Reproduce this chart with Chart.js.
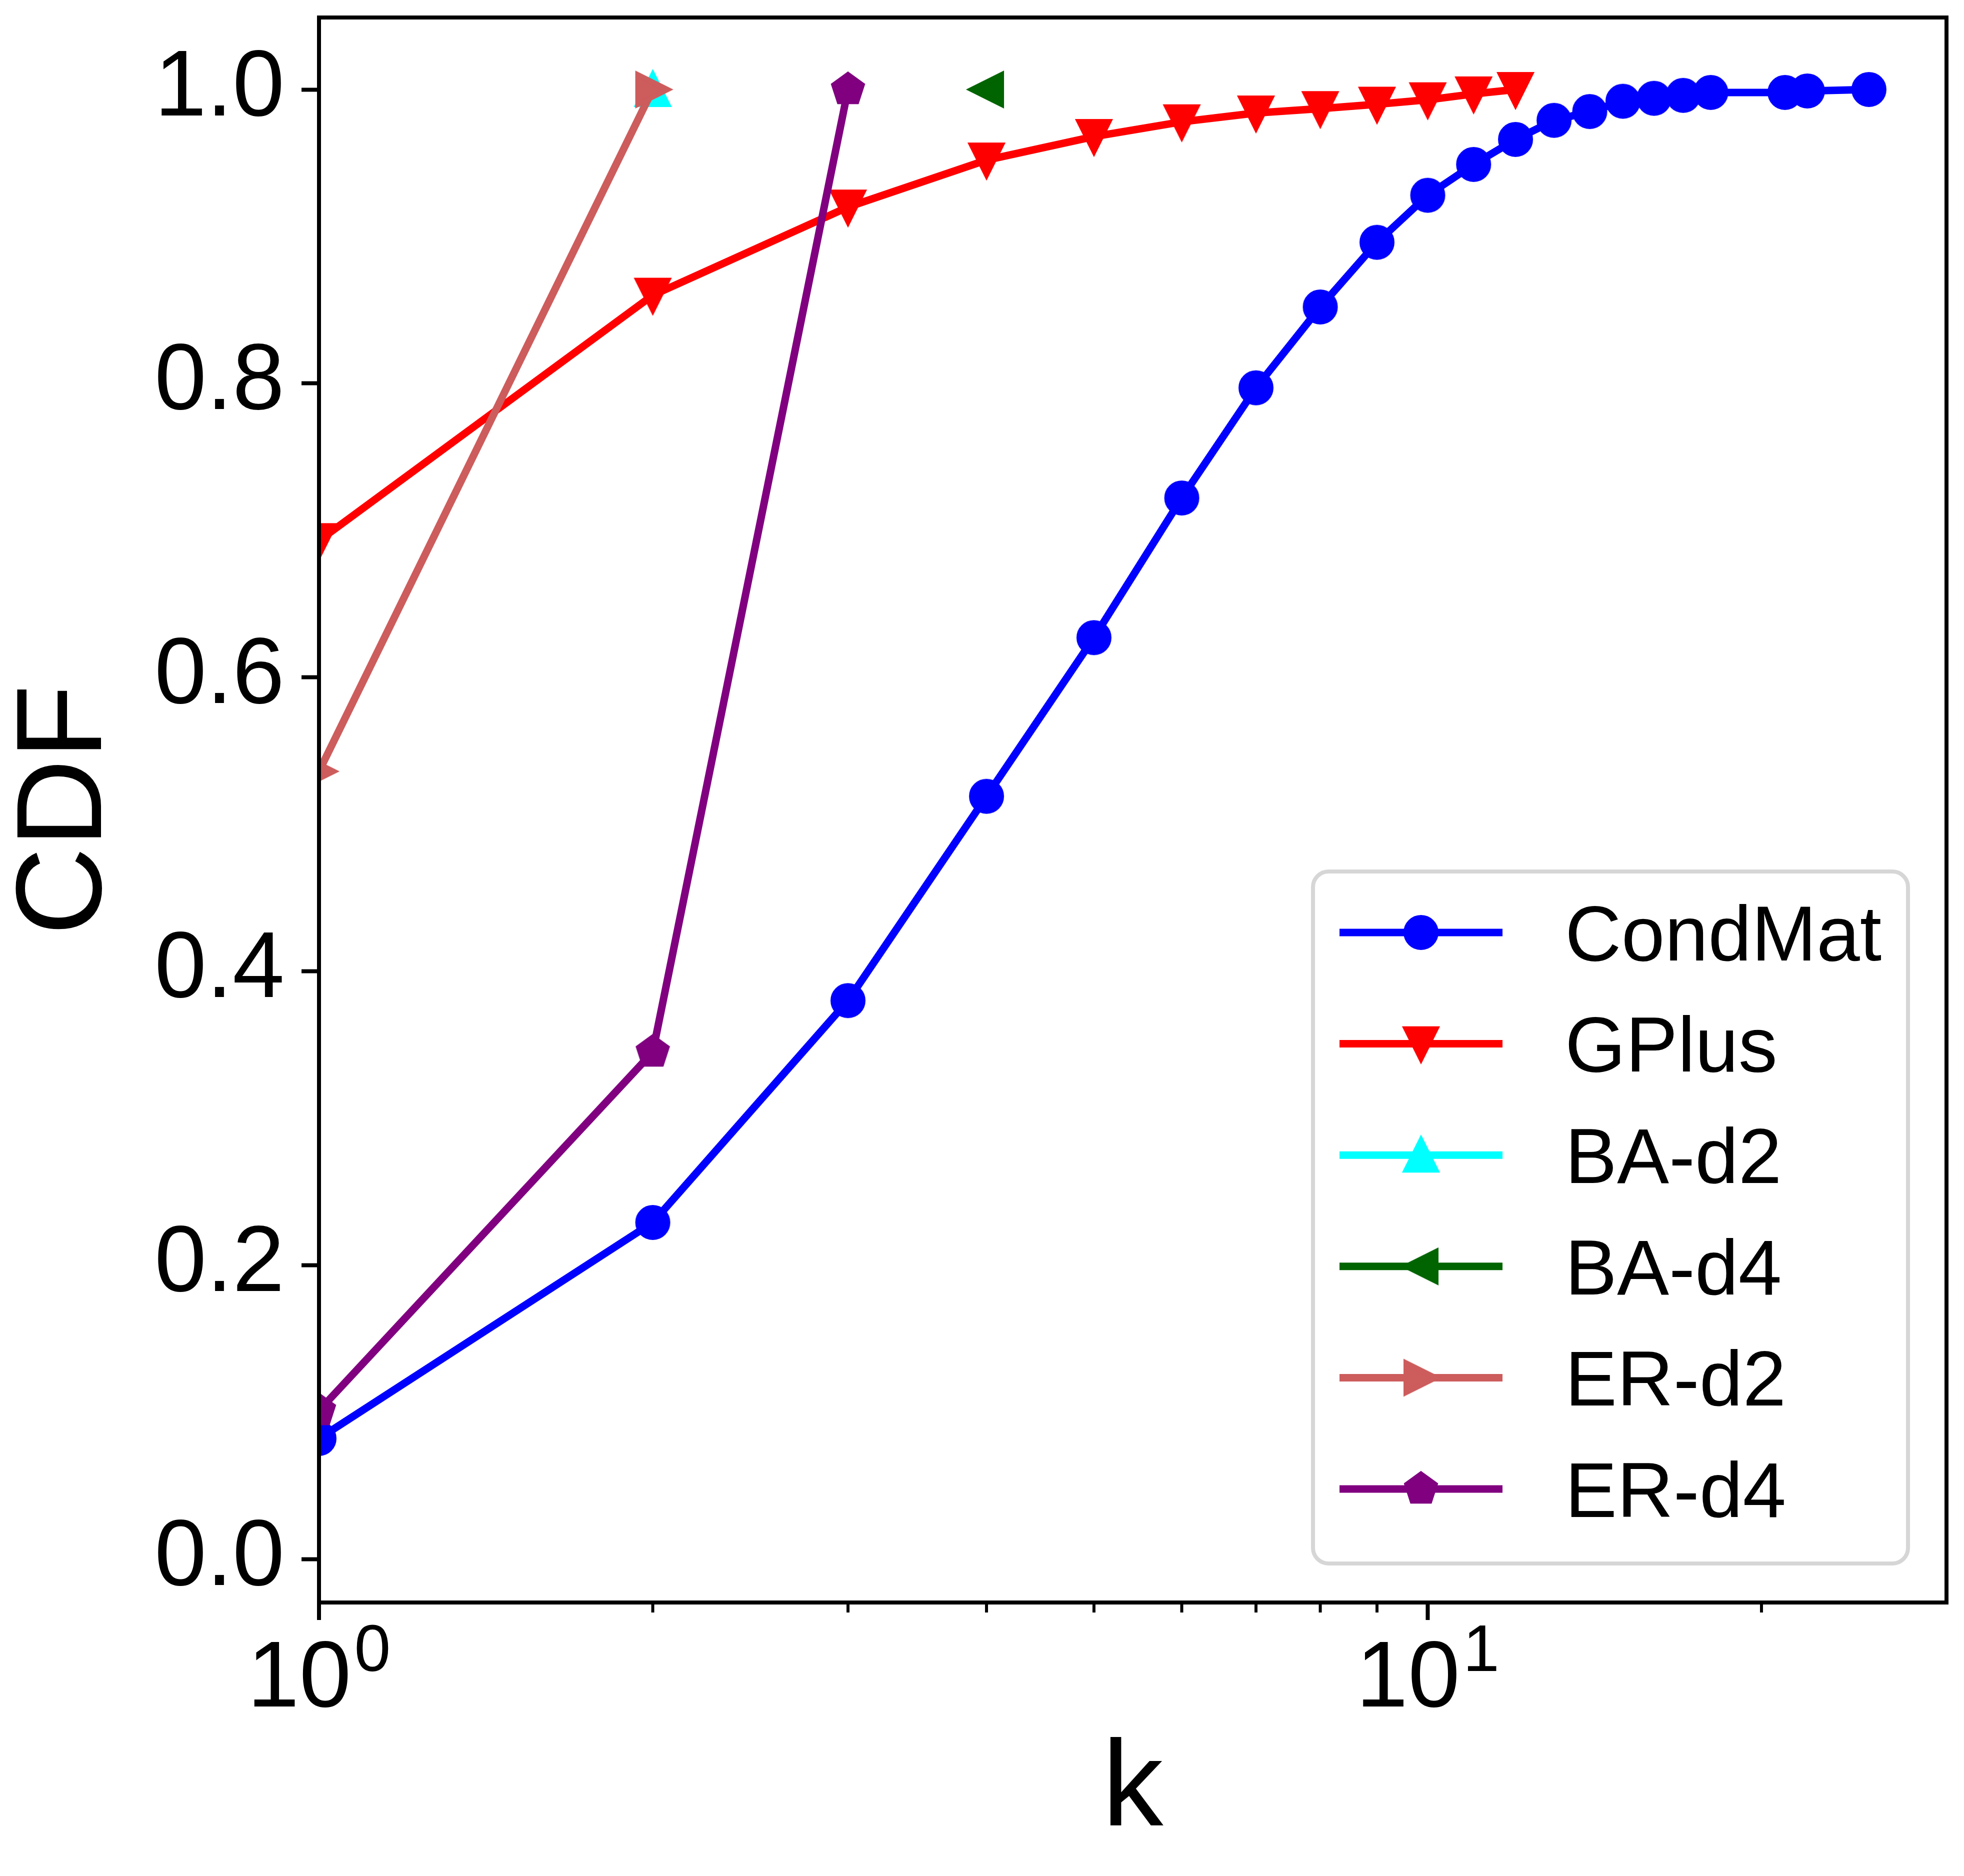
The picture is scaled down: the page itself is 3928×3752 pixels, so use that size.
<!DOCTYPE html>
<html>
<head>
<meta charset="utf-8">
<script src="https://cdn.jsdelivr.net/npm/chart.js@4.4.1/dist/chart.umd.min.js"></script>
<style>
html,body{margin:0;padding:0;background:#ffffff;}
canvas{display:block;}
</style>
</head>
<body>
<canvas id="c" width="3928" height="3752" style="width:3928px;height:3752px"></canvas>
<script>
// ---------------- data ----------------
const seriesNames = ['CondMat', 'GPlus', 'BA-d2', 'BA-d4', 'ER-d2', 'ER-d4'];
const condMatK   = [1, 2, 3, 4, 5, 6, 7, 8, 9, 10, 11, 12, 13, 14, 15, 16, 17, 18, 21, 22, 25];
const condMatCDF = [0.082, 0.229, 0.380, 0.519, 0.627, 0.722, 0.797, 0.852, 0.896, 0.928, 0.949,
                    0.966, 0.979, 0.985, 0.992, 0.994, 0.996, 0.998, 0.998, 0.999, 1.000];
const gplusK   = [1, 2, 3, 4, 5, 6, 7, 8, 9, 10, 11, 12];
const gplusCDF = [0.693, 0.860, 0.920, 0.952, 0.968, 0.978, 0.984, 0.987, 0.990, 0.993, 0.997, 1.000];
const baD2K = [2];       const baD2CDF = [1.0];
const baD4K = [4];       const baD4CDF = [1.0];
const erD2K = [1, 2];    const erD2CDF = [0.536, 1.0];
const erD4K = [1, 2, 3]; const erD4CDF = [0.101, 0.345, 1.0];

const yTickValues  = [0.0, 0.2, 0.4, 0.6, 0.8, 1.0];
const xMajorTicks  = [1, 10];
const xMajorBase   = ['10', '10'];
const xMajorExpo   = ['0', '1'];
const xMinorTicks  = [2, 3, 4, 5, 6, 7, 8, 9, 20];
const xLabel = 'k';
const yLabel = 'CDF';

// ---------------- styles ----------------
const FONT = "'Liberation Sans', Arial, Helvetica, sans-serif";
const colors = ['#0000ff', '#ff0000', '#00ffff', '#006400', '#cd5c5c', '#800080'];
const shapes = ['circle', 'triDown', 'triUp', 'triLeft', 'triRight', 'pentagon'];

function makeMarker(shape, color) {
  const S = 100;
  const c = document.createElement('canvas');
  c.width = S; c.height = S;
  const g = c.getContext('2d');
  g.translate(S / 2, S / 2);
  const r = 30;
  g.beginPath();
  if (shape === 'circle') {
    g.arc(0, 0, r, 0, Math.PI * 2);
  } else if (shape === 'triDown') {
    g.moveTo(0, r); g.lineTo(-r, -r); g.lineTo(r, -r); g.closePath();
  } else if (shape === 'triUp') {
    g.moveTo(0, -r); g.lineTo(-r, r); g.lineTo(r, r); g.closePath();
  } else if (shape === 'triLeft') {
    g.moveTo(-r, 0); g.lineTo(r, -r); g.lineTo(r, r); g.closePath();
  } else if (shape === 'triRight') {
    g.moveTo(r, 0); g.lineTo(-r, -r); g.lineTo(-r, r); g.closePath();
  } else if (shape === 'pentagon') {
    for (let i = 0; i < 5; i++) {
      const a = -Math.PI / 2 + i * 2 * Math.PI / 5;
      const px = r * Math.cos(a), py = r * Math.sin(a);
      if (i === 0) g.moveTo(px, py); else g.lineTo(px, py);
    }
    g.closePath();
  }
  g.fillStyle = color;
  g.fill();
  g.lineWidth = 10;
  g.lineJoin = 'miter';
  g.strokeStyle = color;
  g.stroke();
  return c;
}
const markers = shapes.map((s, i) => makeMarker(s, colors[i]));

function toPoints(ks, vs) { return ks.map((k, i) => ({ x: k, y: vs[i] })); }
const seriesK   = [condMatK, gplusK, baD2K, baD4K, erD2K, erD4K];
const seriesCDF = [condMatCDF, gplusCDF, baD2CDF, baD4CDF, erD2CDF, erD4CDF];

const datasets = seriesNames.map((name, i) => ({
  label: name,
  data: toPoints(seriesK[i], seriesCDF[i]),
  borderColor: colors[i],
  backgroundColor: colors[i],
  borderWidth: 15,
  borderJoinStyle: 'round',
  borderCapStyle: 'square',
  pointStyle: markers[i],
  pointRadius: 35,
  pointHoverRadius: 35,
  pointBorderWidth: 0,
  fill: false,
  tension: 0,
  order: seriesNames.length - i
}));

// ---------------- plugins ----------------
const framePlugin = {
  id: 'frame',
  afterDatasetsDraw(chart) {
    const { ctx, chartArea: a } = chart;
    ctx.save();
    ctx.strokeStyle = '#000000';
    ctx.lineWidth = 8;
    ctx.lineJoin = 'miter';
    ctx.strokeRect(a.left, a.top, a.right - a.left, a.bottom - a.top);
    ctx.restore();
  }
};

const xAxisPlugin = {
  id: 'xAxisTicks',
  afterDraw(chart) {
    const { ctx, chartArea: a } = chart;
    const xs = chart.scales.x;
    ctx.save();
    ctx.strokeStyle = '#000000';
    // major ticks
    ctx.lineWidth = 8;
    xMajorTicks.forEach(v => {
      const px = xs.getPixelForValue(v);
      ctx.beginPath(); ctx.moveTo(px, a.bottom); ctx.lineTo(px, a.bottom + 35); ctx.stroke();
    });
    // minor ticks
    ctx.lineWidth = 6;
    xMinorTicks.forEach(v => {
      const px = xs.getPixelForValue(v);
      ctx.beginPath(); ctx.moveTo(px, a.bottom); ctx.lineTo(px, a.bottom + 20); ctx.stroke();
    });
    // labels 10^n
    ctx.fillStyle = '#000000';
    ctx.textBaseline = 'alphabetic';
    ctx.textAlign = 'left';
    const big = 187, small = 131;
    xMajorTicks.forEach((v, i) => {
      const px = xs.getPixelForValue(v);
      ctx.font = big + 'px ' + FONT;
      const wb = ctx.measureText(xMajorBase[i]).width;
      ctx.font = small + 'px ' + FONT;
      const we = ctx.measureText(xMajorExpo[i]).width;
      const gap = 6;
      const x0 = px - (wb + gap + we) / 2;
      ctx.font = big + 'px ' + FONT;
      ctx.fillText(xMajorBase[i], x0, a.bottom + 208);
      ctx.font = small + 'px ' + FONT;
      ctx.fillText(xMajorExpo[i], x0 + wb + gap, a.bottom + 137);
    });
    ctx.restore();
  }
};

const legendPlugin = {
  id: 'mplLegend',
  afterDraw(chart) {
    const { ctx, chartArea: a } = chart;
    const right = a.right - 77, bottom = a.bottom - 78;
    const left = right - 1190, top = bottom - 1384;
    const rad = 31;
    ctx.save();
    ctx.beginPath();
    ctx.moveTo(left + rad, top);
    ctx.lineTo(right - rad, top);
    ctx.arcTo(right, top, right, top + rad, rad);
    ctx.lineTo(right, bottom - rad);
    ctx.arcTo(right, bottom, right - rad, bottom, rad);
    ctx.lineTo(left + rad, bottom);
    ctx.arcTo(left, bottom, left, bottom - rad, rad);
    ctx.lineTo(left, top + rad);
    ctx.arcTo(left, top, left + rad, top, rad);
    ctx.closePath();
    ctx.fillStyle = 'rgba(255,255,255,0.8)';
    ctx.fill();
    ctx.lineWidth = 8;
    ctx.strokeStyle = '#d6d6d6';
    ctx.stroke();

    const fs = 156;
    ctx.font = fs + 'px ' + FONT;
    ctx.textAlign = 'left';
    ctx.textBaseline = 'alphabetic';
    chart.data.datasets.forEach((ds, i) => {
      const y = top + 122 + i * 222.6;
      ctx.beginPath();
      ctx.moveTo(left + 53, y);
      ctx.lineTo(left + 379, y);
      ctx.lineWidth = 15;
      ctx.lineCap = 'butt';
      ctx.strokeStyle = ds.borderColor;
      ctx.stroke();
      const m = ds.pointStyle;
      ctx.drawImage(m, left + 216 - m.width / 2, y - m.height / 2);
      ctx.fillStyle = '#000000';
      ctx.fillText(ds.label, left + 504, y + 0.358 * fs);
    });
    ctx.restore();
  }
};

// ---------------- chart ----------------
new Chart(document.getElementById('c'), {
  type: 'line',
  data: { datasets: datasets },
  options: {
    responsive: false,
    animation: false,
    devicePixelRatio: 1,
    layout: { padding: { top: 34, right: 34, left: 0, bottom: 0 } },
    plugins: { legend: { display: false }, tooltip: { enabled: false } },
    scales: {
      x: {
        type: 'logarithmic',
        position: 'bottom',
        min: 1,
        max: 29.37,
        grid: { display: false },
        border: { display: false },
        ticks: { display: false },
        afterBuildTicks(s) {
          s.ticks = xMajorTicks.concat(xMinorTicks).sort((p, q) => p - q)
            .map(v => ({ value: v, major: xMajorTicks.includes(v) }));
        },
        afterFit(s) { s.height = 547; s.paddingLeft = 0; s.paddingRight = 0; },
        title: {
          display: true, text: xLabel, color: '#000000',
          font: { family: FONT, size: 244, lineHeight: 1 },
          padding: { top: 0, bottom: 47 }
        }
      },
      y: {
        type: 'linear',
        position: 'left',
        min: -0.0296,
        max: 1.049,
        grid: {
          display: true, drawOnChartArea: false, drawTicks: true,
          tickLength: 35, tickWidth: 8, tickColor: '#000000'
        },
        border: { display: false },
        ticks: {
          padding: 34, color: '#000000',
          font: { family: FONT, size: 187 },
          callback: v => Number(v).toFixed(1)
        },
        afterBuildTicks(s) { s.ticks = yTickValues.map(v => ({ value: v })); },
        afterFit(s) { s.width = 638; s.paddingTop = 0; s.paddingBottom = 0; },
        title: {
          display: true, text: yLabel, color: '#000000',
          font: { family: FONT, size: 244, lineHeight: 1 },
          padding: { top: 13, bottom: 0 }
        }
      }
    }
  },
  plugins: [framePlugin, xAxisPlugin, legendPlugin]
});
</script>
</body>
</html>
